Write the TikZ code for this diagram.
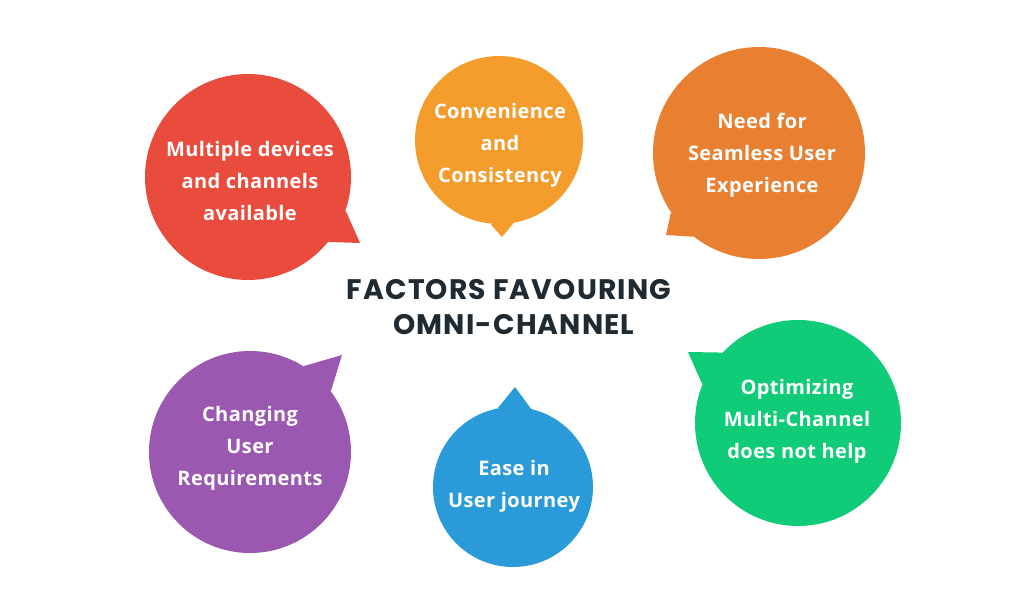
\documentclass[tikz,border=0pt]{standalone}
\usepackage{fontspec}
\newfontfamily\bubblefont{Open Sans}[LetterSpace=2]
\newfontfamily\titlefont{Poppins}[LetterSpace=4]
\definecolor{cred}{HTML}{E94B3C}
\definecolor{cconv}{HTML}{F49C2C}
\definecolor{cneed}{HTML}{E97F31}
\definecolor{cpurple}{HTML}{9B58B1}
\definecolor{cblue}{HTML}{2A9AD9}
\definecolor{cgreen}{HTML}{10CB78}
\definecolor{ctitle}{HTML}{1F2A32}
\tikzset{
  bubble/.style={circle, inner sep=0pt, minimum size=#1*1.5pt},
  bubbletext/.style={inner sep=0pt, text=white, align=center,
    font=\bubblefont\bfseries\fontsize{15}{24}\selectfont},
  titletext/.style={inner sep=0pt, text=ctitle,
    font=\titlefont\bfseries\fontsize{21.2}{26}\selectfont}
}
\begin{document}
\begin{tikzpicture}[x=0.75pt,y=-0.75pt]
\useasboundingbox (0,0) rectangle (1024,613);
\fill[white] (0,0) rectangle (1024,613);

% red
\node[bubble=103, fill=cred] (red) at (248,177) {};
\coordinate (redtip) at (360,243);
\fill[cred] (red.-19) -- (redtip) -- (red.-39) -- cycle;
\node[bubbletext] (redlabel) at (250,180.5) {Multiple devices\\and channels\\available};

% convenience
\node[bubble=84, fill=cconv] (conv) at (499,140) {};
\coordinate (convtip) at (502,237);
\fill[cconv] (conv.-96) -- (convtip) -- (conv.-80) -- cycle;
\node[bubbletext] (convlabel) at (500,145) {Convenience\\and\\Consistency};

% need
\node[bubble=106, fill=cneed] (need) at (759,153) {};
\coordinate (needtip) at (666,235);
\fill[cneed] (need.214) -- (needtip) -- (need.232) -- cycle;
\node[bubbletext] (needlabel) at (762,155) {Need for\\Seamless User\\Experience};

% purple
\node[bubble=101, fill=cpurple] (purple) at (250,452) {};
\coordinate (purpletip) at (342,355);
\fill[cpurple] (purple.58) -- (purpletip) -- (purple.37) -- cycle;
\node[bubbletext] (purplelabel) at (250,448) {Changing\\User\\Requirements};

% blue
\node[bubble=80, fill=cblue] (blue) at (513,487) {};
\coordinate (bluetip) at (515,387);
\fill[cblue] (blue.101) -- (bluetip) -- (blue.77) -- cycle;
\node[bubbletext] (bluelabel) at (514,486) {Ease in\\User journey};

% green
\node[bubble=103, fill=cgreen] (green) at (798,423) {};
\coordinate (greentip) at (688,352);
\fill[cgreen] (green.137) -- (greentip) -- (green.158) -- cycle;
\node[bubbletext] (greenlabel) at (797,421.5) {Optimizing\\Multi-Channel\\does not help};

% title
\node[titletext] (title1) at (509,290) {FACTORS FAVOURING};
\node[titletext] (title2) at (514,325) {OMNI-CHANNEL};
\end{tikzpicture}
\end{document}
